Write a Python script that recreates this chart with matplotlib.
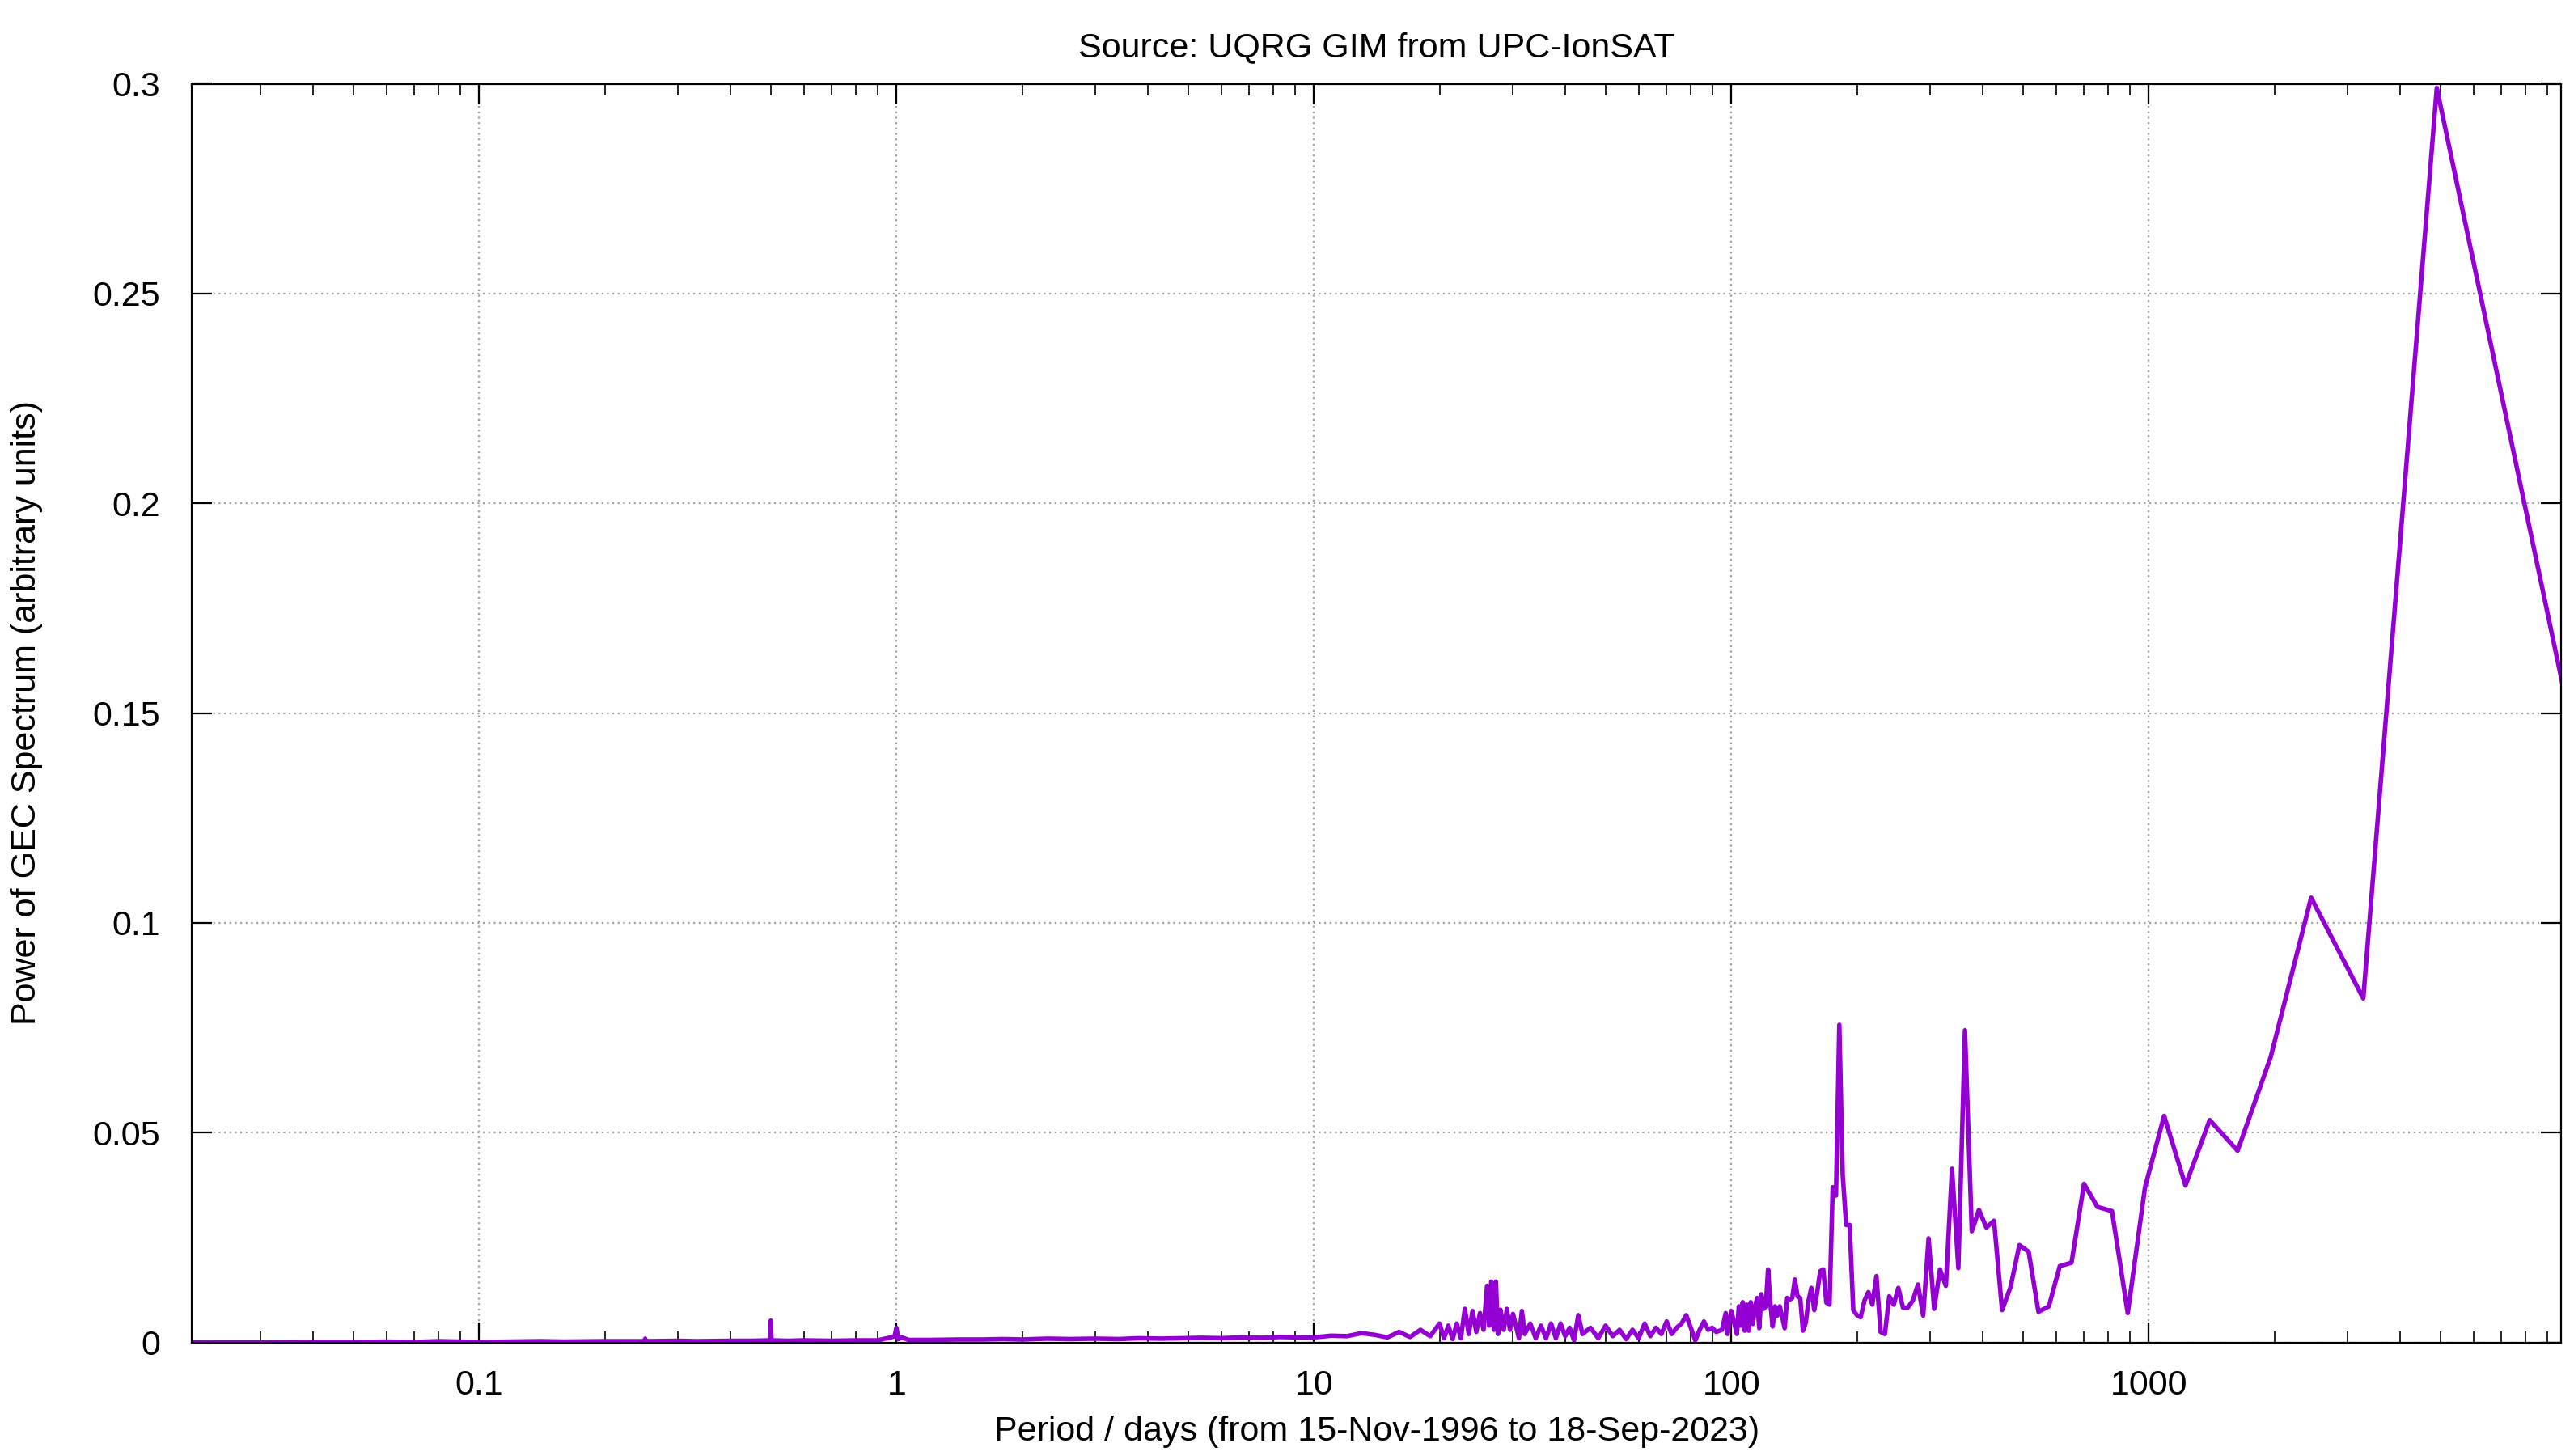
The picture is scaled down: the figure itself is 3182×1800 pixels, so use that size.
import matplotlib
matplotlib.use('agg')
import matplotlib.pyplot as plt
from matplotlib.ticker import FuncFormatter, LogLocator, MultipleLocator

plt.rcParams['font.family'] = ['Liberation Sans', 'DejaVu Sans']

RECORD_DAYS = 9800.0

# long periods: power for harmonic k of the record length (period = RECORD_DAYS / k)
harmonic_k = list(range(1, 97))
harmonic_power = [
    0.157, 0.299, 0.082, 0.106, 0.068, 0.0457, 0.053, 0.0374, 0.054, 0.037,
    0.007, 0.0313, 0.0323, 0.0378, 0.019, 0.0182, 0.0086, 0.0073, 0.0216, 0.0232,
    0.0132, 0.0077, 0.029, 0.0274, 0.0316, 0.0265, 0.0744, 0.0177, 0.0414, 0.0135,
    0.0174, 0.008, 0.0248, 0.0064, 0.0138, 0.010, 0.0083, 0.0083, 0.013, 0.009,
    0.011, 0.002, 0.0025, 0.0158, 0.009, 0.012, 0.010, 0.006, 0.0065, 0.0077,
    0.028, 0.028, 0.040, 0.0757, 0.035, 0.037, 0.009, 0.0095, 0.0174, 0.017,
    0.012, 0.0077, 0.013, 0.010, 0.0047, 0.0028, 0.0106, 0.011, 0.015, 0.0106,
    0.0102, 0.0106, 0.0034, 0.006, 0.0086, 0.0064, 0.0086, 0.0038, 0.0093, 0.0174,
    0.0086, 0.008, 0.0115, 0.0034, 0.0106, 0.0083, 0.0044, 0.0096, 0.0028, 0.009,
    0.0028, 0.0096, 0.004, 0.0086, 0.002, 0.0038,
]

short_period = [
    0.0208, 0.03, 0.04, 0.05, 0.06, 0.07, 0.08, 0.09, 0.1, 0.12, 0.14, 0.16, 0.2,
    0.249, 0.25, 0.251, 0.3, 0.333, 0.4, 0.45, 0.498, 0.5, 0.502, 0.55, 0.6, 0.7,
    0.8, 0.9, 0.97, 0.99, 1.0, 1.01, 1.03, 1.07, 1.2, 1.4, 1.6, 1.8, 2.0, 2.3,
    2.6, 3.0, 3.4, 3.8, 4.3, 4.8, 5.4, 6.0, 6.7, 7.5, 8.3, 9.2,
    10, 11, 12, 13, 14, 15, 16, 17, 18, 19, 20, 20.5, 21, 21.5, 22, 22.5, 23,
    23.5, 24, 24.5, 25, 25.5, 26, 26.3, 26.6, 27, 27.3, 27.6, 28, 28.5, 29, 29.5,
    30, 31, 31.5, 32, 33, 34, 35, 36, 37, 38, 39, 40, 41, 42, 43, 44, 46, 48,
    50, 52, 54, 56, 58, 60, 62, 64, 66, 68, 70, 72, 74, 76, 78, 80, 82, 84, 86,
    88, 90, 92, 95, 97, 98, 100,
]
short_power = [
    0.0, 0.0, 0.0001, 0.0001, 0.0002, 0.0001, 0.0003, 0.0002, 0.0001, 0.0002, 0.0003, 0.0002, 0.0003,
    0.0003, 0.0009, 0.0003, 0.0004, 0.0003, 0.0004, 0.0004, 0.0005, 0.0052, 0.0005, 0.0004, 0.0005, 0.0004,
    0.0005, 0.0005, 0.0012, 0.0015, 0.0035, 0.0008, 0.0012, 0.0006, 0.0006, 0.0007, 0.0007, 0.0008, 0.0007, 0.0009,
    0.0008, 0.0009, 0.0008, 0.0010, 0.0009, 0.0010, 0.0011, 0.0010, 0.0012, 0.0011, 0.0013, 0.0012,
    0.0012, 0.0016, 0.0015, 0.0022, 0.0018, 0.0012, 0.0025, 0.0013, 0.003, 0.0015, 0.0045, 0.001, 0.004, 0.0008, 0.0045, 0.001, 0.008,
    0.002, 0.0075, 0.0025, 0.007, 0.003, 0.0135, 0.004, 0.0145, 0.003, 0.0145, 0.002, 0.0078, 0.003, 0.008, 0.003,
    0.0068, 0.001, 0.0075, 0.002, 0.0045, 0.001, 0.004, 0.001, 0.0045, 0.001, 0.0045, 0.0015, 0.0035, 0.0005, 0.0065, 0.002, 0.0035, 0.001,
    0.004, 0.0015, 0.003, 0.0008, 0.003, 0.001, 0.0045, 0.0015, 0.0035, 0.002, 0.005, 0.002, 0.0035, 0.0045, 0.0065, 0.0035, 0.0005, 0.003, 0.005,
    0.003, 0.0035, 0.0025, 0.003, 0.007, 0.002, 0.0075,
]

long_period = [RECORD_DAYS / k for k in harmonic_k]
periods = short_period + long_period[::-1]
power = short_power + harmonic_power[::-1]

fig = plt.figure(figsize=(15.91, 9.0), dpi=200)
ax = fig.add_axes([0.0745, 0.078, 0.9205, 0.8645])
ax.plot(periods, power, color='#9400D3', linewidth=2.0)

ax.set_xscale('log')
ax.set_xlim(0.0205, 9730)
ax.set_ylim(0, 0.3)
ax.yaxis.set_major_locator(MultipleLocator(0.05))
ax.yaxis.set_major_formatter(FuncFormatter(lambda v, _: f'{v:g}'))
ax.xaxis.set_major_locator(LogLocator(base=10, numticks=20))
ax.xaxis.set_minor_locator(LogLocator(base=10, subs=range(2, 10), numticks=20))
ax.xaxis.set_major_formatter(FuncFormatter(lambda v, _: f'{v:g}'))
ax.tick_params(which='both', direction='in', top=True, right=True, labelsize=15.5)
ax.tick_params(axis='x', pad=12)
ax.tick_params(axis='y', pad=14)
ax.tick_params(which='major', length=9, width=0.8)
ax.tick_params(which='minor', length=5, width=0.6)
ax.grid(True, which='major', color='#a0a0a0', linestyle=(0, (1, 2)), linewidth=0.8)
for s in ax.spines.values():
    s.set_linewidth(0.8)

ax.set_xlabel('Period / days (from 15-Nov-1996 to 18-Sep-2023)', fontsize=15.5, labelpad=6)
ax.set_ylabel('Power of GEC Spectrum (arbitrary units)', fontsize=15.5, labelpad=22)
ax.set_title('Source: UQRG GIM from UPC-IonSAT', fontsize=15.5, pad=12)

fig.savefig('out.png', dpi=200)
